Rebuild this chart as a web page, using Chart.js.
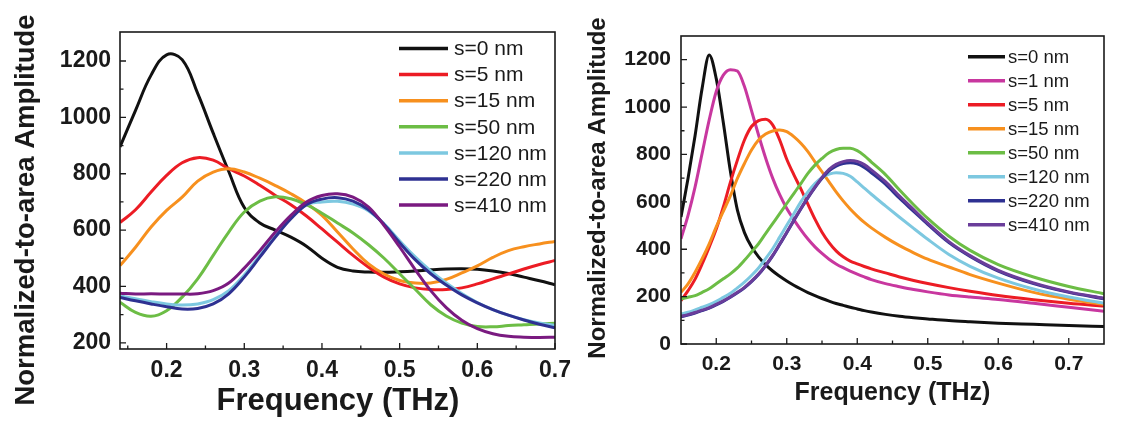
<!DOCTYPE html>
<html><head><meta charset="utf-8">
<script src="https://cdn.jsdelivr.net/npm/chart.js@4.4.1/dist/chart.umd.min.js"></script>
<style>
html,body{margin:0;padding:0;background:#fff;}
#wrap{position:relative;width:1121px;height:425px;overflow:hidden;background:#fff;}
#c1{position:absolute;left:0;top:0;}
#c2{position:absolute;left:580px;top:0;}
</style></head><body>
<div id="wrap"><canvas id="c1" width="580" height="425"></canvas><canvas id="c2" width="541" height="425"></canvas></div>
<script>
// ---------- Left panel data ----------
const leftFreq = [0.14,0.16,0.18,0.20,0.22,0.24,0.26,0.28,0.30,0.32,0.34,0.36,0.38,0.40,0.42,0.44,0.46,0.48,0.50,0.52,0.54,0.56,0.58,0.60,0.62,0.64,0.66,0.68,0.70];
const leftS0   = [895,1025,1150,1222,1205,1085,944,808,680,625,600,575,543,500,468,455,451,450,452,455,459,462,463,461,455,446,433,420,406];
const leftS5   = [627,672,735,794,839,857,848,818,792,759,723,690,650,604,557,510,468,433,409,395,389,389,395,409,427,444,462,478,492];
const leftS15  = [474,539,611,670,717,774,806,818,806,784,758,729,695,652,593,533,480,444,421,412,412,425,448,473,503,527,541,551,560];
const leftS50  = [344,308,294,314,362,427,510,593,664,703,718,711,690,660,625,590,548,500,445,390,335,295,270,258,257,261,264,267,269];
const leftS120 = [367,356,346,338,334,338,353,385,441,510,581,644,690,700,702,692,668,622,562,505,455,412,375,343,318,298,282,270,262];
const leftS220 = [361,349,338,328,320,322,338,374,433,504,575,640,690,710,715,703,672,620,555,495,445,405,370,342,318,298,281,266,253];
const leftS410 = [376,373,374,373,373,374,385,412,465,527,593,652,700,723,729,717,682,616,540,460,385,325,280,250,232,223,220,219,220];
const leftLabels = ['s=0 nm','s=5 nm','s=15 nm','s=50 nm','s=120 nm','s=220 nm','s=410 nm'];
const leftColors = ['#111111','#ec1c24','#f7901e','#6cbd45','#7dc8e0','#2e3192','#7a1a80'];
const leftXTicks = [0.2,0.3,0.4,0.5,0.6,0.7];
const leftXMinor = [0.15,0.25,0.35,0.45,0.55,0.65];
const leftYTicks = [200,400,600,800,1000,1200];
const leftYMinor = [300,500,700,900,1100];

// ---------- Right panel data ----------
const rightFreq = [0.15,0.16,0.17,0.18,0.19,0.20,0.21,0.22,0.23,0.24,0.25,0.26,0.27,0.28,0.29,0.30,0.31,0.32,0.33,0.34,0.35,0.36,0.37,0.38,0.39,0.40,0.41,0.42,0.44,0.46,0.48,0.50,0.53,0.56,0.60,0.65,0.70,0.75];
const rightS0   = [536,700,880,1080,1220,1120,935,730,565,470,410,368,335,308,286,266,248,232,217,204,192,181,171,163,155,148,141,135,125,117,111,106,99,94,88,83,78,74];
const rightS1   = [444,543,663,805,946,1066,1135,1158,1152,1087,985,882,785,700,630,572,525,482,443,410,382,358,338,322,308,295,283,272,255,242,230,220,207,198,188,172,155,138];
const rightS5   = [183,225,274,338,409,485,578,682,776,861,918,943,949,925,861,780,715,655,590,527,472,428,393,368,350,338,327,317,300,283,268,255,238,223,205,187,172,160];
const rightS15  = [218,254,303,360,423,494,560,625,699,762,819,861,886,899,903,896,875,847,812,769,727,684,642,604,570,540,513,490,450,415,385,358,325,293,257,218,189,167];
const rightS50  = [190,197,204,218,233,254,275,296,321,353,388,423,466,508,550,593,635,677,720,755,783,807,821,826,826,816,795,768,715,650,588,530,455,395,335,283,243,212];
const rightS120 = [127,134,144,155,166,180,197,214,237,261,289,321,360,402,451,501,550,600,642,677,703,717,723,720,708,684,658,632,583,535,488,442,378,328,278,232,198,172];
const rightS220 = [115,122,131,141,151,165,180,197,216,237,263,293,330,372,420,470,520,570,617,660,699,731,751,762,765,760,745,723,675,615,560,505,428,370,308,255,218,191];
const rightS410 = [117,124,133,143,153,167,182,199,218,239,265,295,332,374,422,472,522,572,619,662,703,737,758,770,775,771,757,735,685,624,567,510,432,373,311,258,220,193];
const rightLabels = ['s=0 nm','s=1 nm','s=5 nm','s=15 nm','s=50 nm','s=120 nm','s=220 nm','s=410 nm'];
const rightColors = ['#111111','#c8379f','#ec1c24','#f7901e','#6cbd45','#7dc8e0','#2e3192','#6a3d9a'];
const rightXTicks = [0.2,0.3,0.4,0.5,0.6,0.7];
const rightXMinor = [0.25,0.35,0.45,0.55,0.65];
const rightYTicks = [0,200,400,600,800,1000,1200];
const rightYMinor = [100,300,500,700,900,1100];

const xTitleText = 'Frequency (THz)';
const yTitleText = 'Normalized-to-area Amplitude';
const FONT = '"Liberation Sans", Arial, Helvetica, sans-serif';
const INK = '#1a1a1a';

function makeChart(canvas, c) {
  const decor = {
    id: 'decor',
    afterDraw(chart) {
      const ctx = chart.ctx, a = chart.chartArea, x = chart.scales.x, y = chart.scales.y;
      ctx.save();
      ctx.strokeStyle = INK; ctx.lineWidth = 1.3;
      ctx.beginPath();
      c.xTicks.forEach(v => { const p = x.getPixelForValue(v); ctx.moveTo(p, a.bottom); ctx.lineTo(p, a.bottom - 6); });
      c.xMinor.forEach(v => { const p = x.getPixelForValue(v); ctx.moveTo(p, a.bottom); ctx.lineTo(p, a.bottom - 3.5); });
      c.yTicks.forEach(v => { const p = y.getPixelForValue(v); ctx.moveTo(a.left, p); ctx.lineTo(a.left + 6, p); });
      c.yMinor.forEach(v => { const p = y.getPixelForValue(v); ctx.moveTo(a.left, p); ctx.lineTo(a.left + 3.5, p); });
      ctx.stroke();
      ctx.lineWidth = 1.6;
      ctx.strokeRect(a.left, a.top, a.right - a.left, a.bottom - a.top);
      ctx.fillStyle = INK;
      ctx.textAlign = 'center'; ctx.textBaseline = 'alphabetic';
      ctx.font = 'bold ' + c.xTitleSize + 'px ' + FONT;
      ctx.fillText(xTitleText, c.xTitleX, c.xTitleY);
      ctx.save();
      ctx.translate(c.yTitleX, c.yTitleY);
      ctx.rotate(-Math.PI / 2);
      ctx.font = 'bold ' + c.yTitleSize + 'px ' + FONT;
      ctx.fillText(yTitleText, 0, 0);
      ctx.restore();
      ctx.textAlign = 'left'; ctx.textBaseline = 'middle';
      ctx.font = c.legSize + 'px ' + FONT;
      c.labels.forEach((lab, i) => {
        const yy = c.legY0 + i * c.legDy;
        ctx.strokeStyle = c.colors[i]; ctx.lineWidth = 3.5; ctx.lineCap = 'butt';
        ctx.beginPath(); ctx.moveTo(c.legX1, yy); ctx.lineTo(c.legX2, yy); ctx.stroke();
        ctx.fillStyle = INK;
        ctx.fillText(lab, c.legTX, yy + 1);
      });
      ctx.restore();
    }
  };
  const n = c.series.length;
  return new Chart(canvas.getContext('2d'), {
    type: 'line',
    data: {
      datasets: c.series.map((s, i) => ({
        label: c.labels[i],
        data: c.freq.map((f, j) => ({ x: f, y: s[j] })),
        borderColor: c.colors[i],
        backgroundColor: c.colors[i],
        borderWidth: 3,
        pointRadius: 0,
        fill: false,
        cubicInterpolationMode: c.interp,
        tension: c.tension,
        order: n - i
      }))
    },
    options: {
      responsive: false,
      animation: false,
      devicePixelRatio: 1,
      layout: { padding: { left: 0, top: c.padTop, right: c.padRight, bottom: 0 } },
      plugins: { legend: { display: false }, tooltip: { enabled: false } },
      scales: {
        x: {
          type: 'linear', min: c.xMin, max: c.xMax,
          grid: { display: false, drawTicks: false }, border: { display: false },
          ticks: { autoSkip: false, maxRotation: 0, padding: c.xTickPad, color: INK,
                   font: { family: FONT, size: c.tickSize, weight: 'bold' },
                   callback: v => Number(v).toFixed(1) },
          afterBuildTicks: s => { s.ticks = c.xTicks.map(v => ({ value: v })); },
          afterFit: s => { s.height = c.xHeight; }
        },
        y: {
          type: 'linear', min: c.yMin, max: c.yMax,
          grid: { display: false, drawTicks: false }, border: { display: false },
          ticks: { autoSkip: false, padding: c.yTickPad, color: INK,
                   font: { family: FONT, size: c.tickSize, weight: 'bold' },
                   callback: v => String(v) },
          afterBuildTicks: s => { s.ticks = c.yTicks.map(v => ({ value: v })); },
          afterFit: s => { s.width = c.yWidth; }
        }
      }
    },
    plugins: [decor]
  });
}

makeChart(document.getElementById('c1'), {
  freq: leftFreq,
  series: [leftS0, leftS5, leftS15, leftS50, leftS120, leftS220, leftS410],
  labels: leftLabels, colors: leftColors,
  xTicks: leftXTicks, xMinor: leftXMinor, yTicks: leftYTicks, yMinor: leftYMinor,
  xMin: 0.14, xMax: 0.70, yMin: 178, yMax: 1303,
  padTop: 32, padRight: 25, yWidth: 120, xHeight: 76,
  tickSize: 23, xTickPad: 8, yTickPad: 9,
  xTitleSize: 31, xTitleX: 338, xTitleY: 410,
  yTitleSize: 27.5, yTitleX: 34, yTitleY: 210,
  legSize: 21, legX1: 399, legX2: 448, legTX: 454, legY0: 48.5, legDy: 26.1,
  interp: 'default', tension: 0.4
});

makeChart(document.getElementById('c2'), {
  freq: rightFreq,
  series: [rightS0, rightS1, rightS5, rightS15, rightS50, rightS120, rightS220, rightS410],
  labels: rightLabels, colors: rightColors,
  xTicks: rightXTicks, xMinor: rightXMinor, yTicks: rightYTicks, yMinor: rightYMinor,
  xMin: 0.15, xMax: 0.75, yMin: 0, yMax: 1300,
  padTop: 36, padRight: 17, yWidth: 101, xHeight: 81,
  tickSize: 21, xTickPad: 8, yTickPad: 10,
  xTitleSize: 25, xTitleX: 312.5, xTitleY: 400,
  yTitleSize: 24, yTitleX: 25, yTitleY: 188,
  legSize: 18.5, legX1: 388, legX2: 425, legTX: 428, legY0: 56.7, legDy: 24,
  interp: 'monotone', tension: 0
});
</script></body></html>
